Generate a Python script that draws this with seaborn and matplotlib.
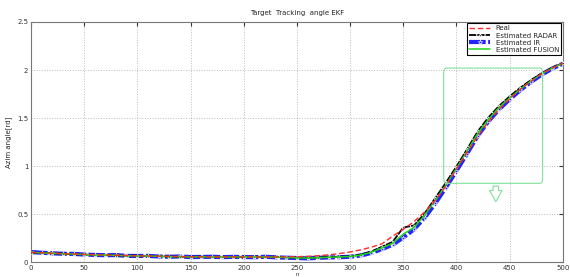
import numpy as np
import pandas as pd
import matplotlib
matplotlib.use('Agg')
import matplotlib.pyplot as plt
from matplotlib.patches import FancyBboxPatch
import seaborn as sns

sns.set_style('whitegrid')
plt.rcParams['font.family'] = ['DejaVu Sans']

# ── Data (n every 10 samples) ────────────────────────────────────────────────
n = list(range(0, 501, 10))

real = [0.100, 0.096, 0.092, 0.088, 0.084, 0.080, 0.077, 0.074, 0.071, 0.068,
        0.065, 0.063, 0.061, 0.059, 0.057, 0.056, 0.055, 0.054, 0.053, 0.053,
        0.053, 0.053, 0.053, 0.053, 0.054, 0.056, 0.060, 0.066, 0.075, 0.088,
        0.105, 0.127, 0.155, 0.190, 0.270, 0.340, 0.420, 0.520, 0.640, 0.790,
        0.970, 1.140, 1.310, 1.460, 1.590, 1.700, 1.800, 1.880, 1.960, 2.020,
        2.070]

radar = [0.098, 0.094, 0.090, 0.088, 0.082, 0.079, 0.072, 0.075, 0.068, 0.066,
         0.067, 0.060, 0.062, 0.057, 0.055, 0.054, 0.057, 0.052, 0.055, 0.050,
         0.054, 0.056, 0.052, 0.055, 0.048, 0.046, 0.043, 0.047, 0.052, 0.056,
         0.060, 0.078, 0.110, 0.160, 0.210, 0.360, 0.380, 0.505, 0.665, 0.825,
         0.995, 1.175, 1.360, 1.505, 1.625, 1.725, 1.815, 1.895, 1.965, 2.025,
         2.070]

ir = [0.104, 0.097, 0.091, 0.086, 0.085, 0.078, 0.074, 0.071, 0.073, 0.064,
      0.063, 0.064, 0.058, 0.055, 0.058, 0.052, 0.053, 0.055, 0.051, 0.054,
      0.052, 0.050, 0.055, 0.049, 0.045, 0.042, 0.038, 0.044, 0.048, 0.050,
      0.055, 0.068, 0.095, 0.135, 0.180, 0.255, 0.340, 0.460, 0.610, 0.775,
      0.950, 1.130, 1.315, 1.465, 1.590, 1.695, 1.790, 1.875, 1.950, 2.015,
      2.065]

fusion = [0.100, 0.095, 0.090, 0.087, 0.083, 0.078, 0.073, 0.072, 0.070, 0.065,
          0.065, 0.062, 0.060, 0.056, 0.056, 0.053, 0.055, 0.053, 0.053, 0.052,
          0.053, 0.053, 0.053, 0.052, 0.047, 0.044, 0.041, 0.045, 0.050, 0.053,
          0.058, 0.073, 0.102, 0.148, 0.195, 0.290, 0.360, 0.485, 0.640, 0.800,
          0.975, 1.155, 1.340, 1.485, 1.610, 1.710, 1.800, 1.885, 1.958, 2.020,
          2.068]

series_names = ['Real', 'Estimated RADAR', 'Estimated IR', 'Estimated FUSION']

df = pd.DataFrame({'n': n, 'Real': real, 'Estimated RADAR': radar,
                   'Estimated IR': ir, 'Estimated FUSION': fusion})
long = df.melt(id_vars='n', var_name='series', value_name='angle')

# ── Plot ──────────────────────────────────────────────────────────────────────
fig = plt.figure(figsize=(5.7, 2.77), dpi=100)
ax = fig.add_axes([0.0544, 0.054, 0.933, 0.8666])

styles = {
    'Real':             dict(color='#ff2a2a', ls=(0, (4, 2)), lw=1.0, marker=None, ms=0, z=5),
    'Estimated RADAR':  dict(color='black', ls=(0, (4, 0.6)), lw=1.3, marker='*', ms=2.5, z=3),
    'Estimated IR':     dict(color='#2323ff', ls=(0, (4, 0.6)), lw=3.0, marker='*', ms=3.5, z=2),
    'Estimated FUSION': dict(color='#1fd41f', ls='-', lw=1.1, marker=None, ms=0, z=4),
}
for name in series_names:
    st = styles[name]
    sub = long[long['series'] == name]
    sns.lineplot(data=sub, x='n', y='angle', ax=ax, color=st['color'],
                 linestyle=st['ls'], linewidth=st['lw'], marker=st['marker'],
                 markersize=st['ms'], markeredgewidth=0.4, label=name,
                 zorder=st['z'])

ax.set_xlim(0, 500)
ax.set_ylim(0, 2.5)
ax.set_xticks(range(0, 501, 50))
ax.set_yticks([0, 0.5, 1, 1.5, 2, 2.5])
ax.set_yticklabels(['0', '0.5', '1', '1.5', '2', '2.5'])
ax.tick_params(direction='in', length=3, labelsize=5, colors='#333333',
               top=True, right=True, pad=2)
ax.grid(True, linestyle=':', color='#bbbbbb', linewidth=0.7)
for sp in ax.spines.values():
    sp.set_color('#777777')
    sp.set_linewidth(0.8)

ax.set_title('Target  Tracking  angle EKF', fontsize=5, pad=5)
ax.set_xlabel('n', fontsize=4, labelpad=1)
ax.set_ylabel('Azim angle[rd]', fontsize=5, labelpad=4)

leg = ax.legend(loc='upper right', fontsize=5, frameon=True, fancybox=False,
                borderpad=0.3, labelspacing=0.15, handlelength=3,
                borderaxespad=0.2)
leg.get_frame().set_edgecolor('black')
leg.get_frame().set_linewidth(0.8)
leg.get_frame().set_alpha(1)

# callout box with hollow arrow
box = FancyBboxPatch((388, 0.82), 93, 1.2, boxstyle='round,pad=0,rounding_size=2.5',
                     mutation_aspect=0.02, fc='none', ec='#7fe09a', lw=0.8, zorder=6)
ax.add_patch(box)
ax.annotate('', xy=(437, 0.6), xytext=(437, 0.82),
            arrowprops=dict(arrowstyle='simple,head_width=0.9,head_length=0.8,tail_width=0.4',
                            fc='white', ec='#7fe09a', lw=0.8), zorder=6)

fig.savefig('out.png', dpi=100)
